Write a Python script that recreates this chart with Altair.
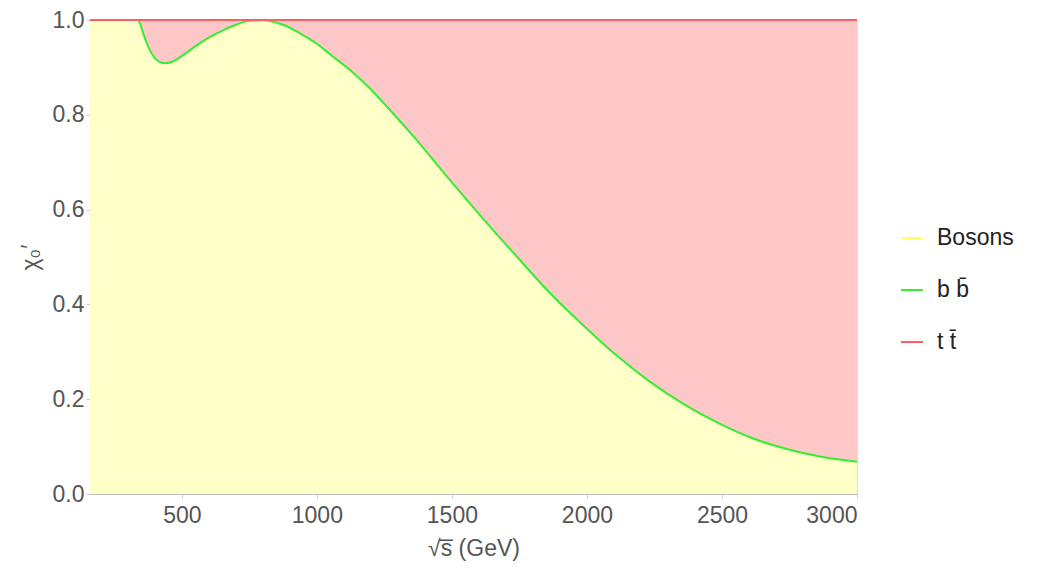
import altair as alt
import pandas as pd

# sqrt(s) in GeV and the b-bbar boundary curve (chi0')
x_vals = [160, 250, 338, 345, 353, 369, 382, 400, 420, 440, 460, 481, 520, 556, 600,
          656, 700, 730, 770, 800, 826, 880, 937, 1000, 1059, 1130, 1196, 1258, 1369,
          1493, 1615, 1740, 1863, 1986, 2110, 2233, 2357, 2493, 2616, 2740, 2863, 3000]
bb_vals = [1.0, 1.0, 1.0, 0.993, 0.979, 0.953, 0.936, 0.920, 0.911, 0.909, 0.911, 0.917,
           0.932, 0.947, 0.963, 0.979, 0.990, 0.996, 0.999, 1.0, 0.998, 0.989, 0.972,
           0.950, 0.923, 0.891, 0.856, 0.818, 0.747, 0.662, 0.581, 0.501, 0.424, 0.356,
           0.292, 0.237, 0.190, 0.148, 0.117, 0.095, 0.079, 0.068]
tt_vals = [1.0] * len(x_vals)

series_names = ["Bosons", "b b\u0304", "t t\u0304"]
series_colors = ["#ffff55", "#33ee33", "#ff5f5f"]

df = pd.DataFrame({"x": x_vals, "bb": bb_vals, "tt": tt_vals, "zero": [0.0] * len(x_vals)})
lines = pd.concat([
    pd.DataFrame({"x": x_vals, "y": bb_vals, "s": series_names[1]}),
    pd.DataFrame({"x": x_vals, "y": tt_vals, "s": series_names[2]}),
])

FONT = "Liberation Sans"
FS = 23
xsc = alt.Scale(domain=[160, 3000], nice=False, zero=False)
ysc = alt.Scale(domain=[0, 1], nice=False)

xax = alt.Axis(values=[500, 1000, 1500, 2000, 2500, 3000], format="d", title="\u221as\u0305  (GeV)",
               labelFontSize=FS, labelColor="#555555", titleFontSize=FS, titleColor="#555555",
               titleFontWeight="normal", labelFont=FONT, titleFont=FONT, grid=False,
               domainColor="#bbbbbb", tickColor="#cccccc", tickSize=4, labelPadding=6,
               titlePadding=10)
yax = alt.Axis(values=[0, 0.2, 0.4, 0.6, 0.8, 1.0], format=".1f", title="\u03c7\u2080\u2032",
               labelFontSize=FS, labelColor="#555555", titleFontSize=FS, titleColor="#555555",
               titleFontWeight="normal", labelFont=FONT, titleFont=FONT, grid=False,
               domainColor="#bbbbbb", tickColor="#cccccc", tickSize=4, labelPadding=2,
               titlePadding=10)

yellow = alt.Chart(df).mark_area(color="#ffffc8", interpolate="monotone").encode(
    x=alt.X("x:Q", scale=xsc, axis=xax),
    y=alt.Y("zero:Q", scale=ysc, axis=yax),
    y2="bb:Q",
)
pink = alt.Chart(df).mark_area(color="#ffc8c8", interpolate="monotone").encode(
    x=alt.X("x:Q", scale=xsc),
    y=alt.Y("bb:Q", scale=ysc),
    y2="tt:Q",
)
line = alt.Chart(lines).mark_line(strokeWidth=2, interpolate="monotone").encode(
    x=alt.X("x:Q", scale=xsc),
    y=alt.Y("y:Q", scale=ysc),
    color=alt.Color("s:N", scale=alt.Scale(domain=series_names, range=series_colors),
                    legend=alt.Legend(title=None, orient="none", legendX=810, legendY=206,
                                      symbolType="stroke", symbolSize=484, symbolStrokeWidth=2,
                                      labelFontSize=FS, labelFont=FONT, labelColor="#222222",
                                      rowPadding=28, labelOffset=13)),
    order=alt.Order("s:N", sort="ascending"),
)

chart = alt.layer(yellow, pink, line).properties(
    width=767, height=474,
    autosize=alt.AutoSizeParams(type="none"),
    padding={"left": 90, "top": 20, "right": 191, "bottom": 78},
).configure_view(stroke="#cccccc", strokeWidth=1).configure(background="white")

chart.save("out.html", embed_options={"renderer": "svg", "actions": False})
